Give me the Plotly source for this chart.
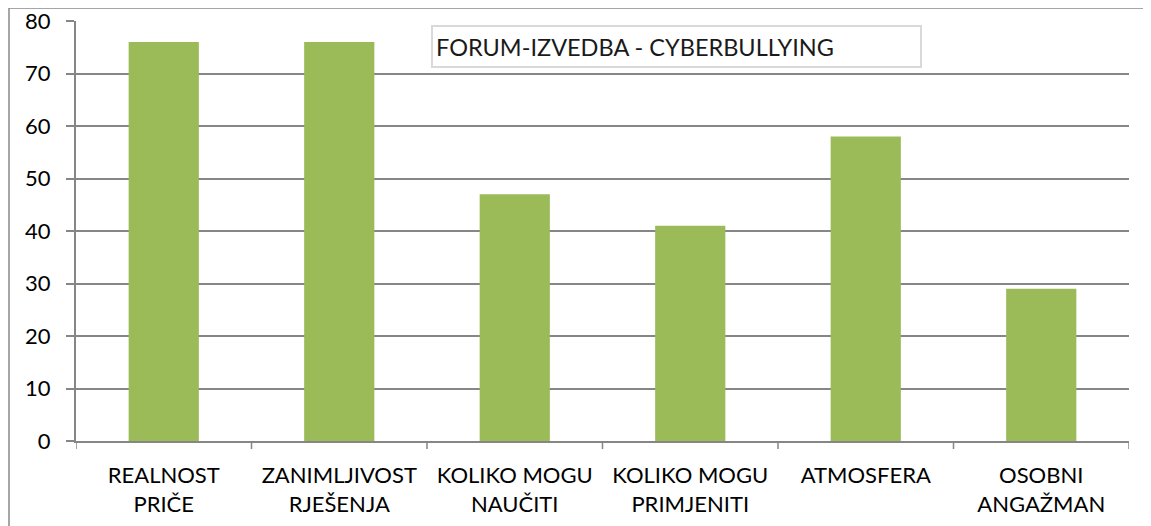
import plotly.graph_objects as go

categories = ["REALNOST<br>PRIČE", "ZANIMLJIVOST<br>RJEŠENJA", "KOLIKO MOGU<br>NAUČITI",
              "KOLIKO MOGU<br>PRIMJENITI", "ATMOSFERA", "OSOBNI<br>ANGAŽMAN"]
values = [76, 76, 47, 41, 58, 29]
title_text = "FORUM-IZVEDBA - CYBERBULLYING"

# page body has an 8px margin; figure is laid out in reference page pixels
OFF = 8
W, H = 1151 - OFF, 526 - OFF
plot_l, plot_r, plot_t, plot_b = 76, 1129, 21, 441   # reference page pixels
ml, mr = plot_l - OFF, (W + OFF) - plot_r
mt, mb = plot_t - OFF, (H + OFF) - plot_b
pw, ph = plot_r - plot_l, plot_b - plot_t

def px_x(x):
    return (x - plot_l) / pw

def px_y(y):
    return (plot_b - y) / ph

font_family = "Lato, 'Open Sans', sans-serif"

fig = go.Figure(go.Bar(
    x=list(range(len(categories))), y=values, marker_color="#9BBB59",
    marker_line_width=0,
))

fig.update_layout(
    width=W, height=H,
    margin=dict(l=ml, r=mr, t=mt, b=mb, autoexpand=False),
    paper_bgcolor="white", plot_bgcolor="white",
    bargap=0.6, showlegend=False,
    font=dict(family=font_family, size=22, color="black"),
)
fig.update_xaxes(
    tickmode="array", tickvals=list(range(len(categories))), ticktext=categories,
    range=[-0.5, len(categories) - 0.5],
    showline=True, linecolor="#868686", linewidth=2,
    ticks="", showgrid=False,
    tickfont=dict(size=22), ticklabelstandoff=14,
    ticklabeloverflow="allow",
)
fig.update_yaxes(
    range=[0, 80.001], tickmode="linear", tick0=0, dtick=10,
    showline=True, linecolor="#868686", linewidth=2,
    showgrid=True, gridcolor="#868686", gridwidth=1.5,
    ticks="outside", ticklen=8, tickcolor="#868686", tickwidth=1.5,
    tickfont=dict(size=22), zeroline=False,
    ticklabelstandoff=11, ticklabeloverflow="allow",
)

shapes = []
# category boundary tick marks below x axis
for i in range(len(categories) + 1):
    shapes.append(dict(type="line", xref="x", yref="paper", x0=i - 0.5, x1=i - 0.5,
                       y0=0, y1=-8 / ph, line=dict(color="#868686", width=1.5)))
# outer chart border
shapes.append(dict(type="line", xref="paper", yref="paper",
                   x0=px_x(9), x1=px_x(9), y0=px_y(8), y1=px_y(530),
                   line=dict(color="#888888", width=1.5)))
shapes.append(dict(type="line", xref="paper", yref="paper",
                   x0=px_x(9), x1=px_x(1160), y0=px_y(8), y1=px_y(8),
                   line=dict(color="#888888", width=1.5)))
# title box
shapes.append(dict(type="rect", xref="paper", yref="paper",
                   x0=px_x(432), x1=px_x(921), y0=px_y(67), y1=px_y(26),
                   line=dict(color="#d9d9d9", width=2), fillcolor="white"))
fig.update_layout(shapes=shapes)

fig.add_annotation(
    xref="paper", yref="paper", x=px_x(434), y=px_y(47),
    xanchor="left", yanchor="middle", showarrow=False,
    text=title_text, font=dict(family=font_family, size=23.5, color="#1a1a1a"),
)

fig.write_html("out.html")
